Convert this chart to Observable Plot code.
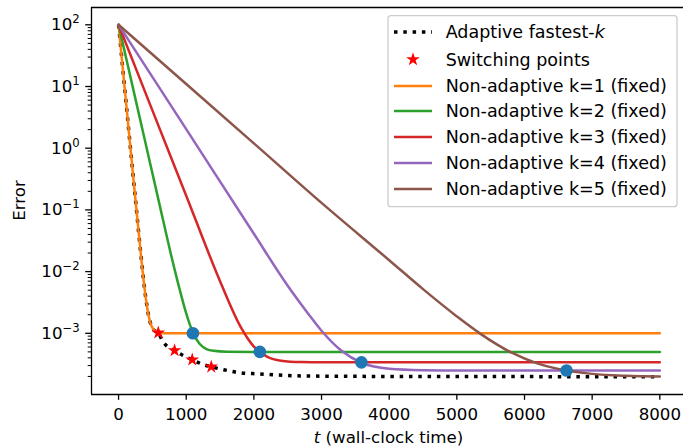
<!DOCTYPE html>
<html><head><meta charset="utf-8">
<script src="https://cdn.jsdelivr.net/npm/d3@7"></script>
<script src="https://cdn.jsdelivr.net/npm/@observablehq/plot@0.6"></script>
<style>html,body{margin:0;padding:0;background:#fff;overflow:hidden}</style>
</head><body><div id="chart"></div>
<script>
// ---- data ----
const seriesNames = ["Adaptive fastest-k", "Switching points",
  "Non-adaptive k=1 (fixed)", "Non-adaptive k=2 (fixed)", "Non-adaptive k=3 (fixed)",
  "Non-adaptive k=4 (fixed)", "Non-adaptive k=5 (fixed)"];

const adaptiveT   = [0, 125, 251, 330, 400, 440, 480, 525, 587, 655, 828, 1005, 1089, 1261, 1370, 1532, 1803, 2074, 2493, 3000, 4000, 8000];
const adaptiveErr = [100, 3.8, 0.142, 0.019, 3.9e-3, 2.04e-3, 1.37e-3, 1.12e-3, 1.02e-3, 7.4e-4, 5.26e-4, 4.1e-4, 3.72e-4, 3.09e-4, 2.86e-4, 2.6e-4, 2.29e-4, 2.2e-4, 2.07e-4, 2.02e-4, 2.0e-4, 1.98e-4];

const switchT   = [587, 828, 1089, 1370];
const switchErr = [1.02e-3, 5.26e-4, 3.72e-4, 2.86e-4];

const k1T   = [0, 125, 251, 330, 400, 440, 480, 525, 590, 700, 8000];
const k1Err = [100, 3.8, 0.142, 0.019, 3.9e-3, 2.04e-3, 1.37e-3, 1.12e-3, 1.01e-3, 1.0e-3, 1.0e-3];

const k2T   = [0, 300, 600, 800, 900, 1000, 1100, 1200, 1300, 1400, 1600, 2000, 8000];
const k2Err = [100, 3.6, 0.13, 0.0145, 5.3e-3, 2.1e-3, 1.02e-3, 6.7e-4, 5.55e-4, 5.2e-4, 5.03e-4, 5.0e-4, 5.0e-4];

const k3T   = [0, 500, 1000, 1500, 1800, 2000, 2200, 2400, 2700, 3000, 8000];
const k3Err = [100, 4.1, 0.17, 7.0e-3, 1.3e-3, 6.1e-4, 4.15e-4, 3.6e-4, 3.42e-4, 3.39e-4, 3.38e-4];

const k4T   = [0, 1000, 2000, 2500, 2800, 3000, 3300, 3600, 4000, 4500, 5000, 8000];
const k4Err = [100, 2.04, 0.041, 5.9e-3, 2.1e-3, 1.1e-3, 5.15e-4, 3.3e-4, 2.67e-4, 2.53e-4, 2.5e-4, 2.5e-4];

const k5T   = [0, 1000, 2000, 3000, 4000, 4500, 5000, 5350, 5819, 6188, 6533, 7000, 7500, 8000];
const k5Err = [100, 11, 1.2, 0.13, 0.0153, 5.2e-3, 1.88e-3, 9.8e-4, 4.8e-4, 3.25e-4, 2.6e-4, 2.2e-4, 2.05e-4, 2.0e-4];

const markerT   = [1099, 2088, 3590, 6621];
const markerErr = [1.0e-3, 5.0e-4, 3.38e-4, 2.5e-4];

const xTicks = [0, 1000, 2000, 3000, 4000, 5000, 6000, 7000, 8000];
const yExponents = [-3, -2, -1, 0, 1, 2];
const yMinorMultipliers = [2, 3, 4, 5, 6, 7, 8, 9];

// ---- styles ----
const lineColors = ["#ff7f0e", "#2ca02c", "#d62728", "#9467bd", "#8c564b"];
const FONT = "DejaVu Sans";
const FS = 16.67;
const LFS = 17.5;
const STAR_R = 4.3;

const toRows = (ts, es) => ts.map((t, i) => ({t, err: es[i]}));
const fixedSeries = [[k1T, k1Err], [k2T, k2Err], [k3T, k3Err], [k4T, k4Err], [k5T, k5Err]].map(([a, b]) => toRows(a, b));
const adaptiveRows = toRows(adaptiveT, adaptiveErr);
const switchRows = toRows(switchT, switchErr);
const markerRows = toRows(markerT, markerErr);

const yMajor = yExponents.map(e => Math.pow(10, e));
const yMinor = [];
for (let e = -4; e <= 2; e++) for (const m of yMinorMultipliers) {
  const v = m * Math.pow(10, e);
  if (v > 1.02e-4 && v < 190) yMinor.push(v);
}
const yDomain = [1.019e-4, 190.7];
const xDomain = [-400, 8350];

const chart = Plot.plot({
  width: 683, height: 448,
  marginLeft: 91, marginRight: 0, marginTop: 7, marginBottom: 54,
  style: `font-family: '${FONT}'; font-size: ${FS}px; background: white; color: black;`,
  x: {domain: xDomain},
  y: {type: "log", domain: yDomain},
  marks: [
    Plot.axisX({ticks: xTicks, tickSize: 5.8, tickPadding: 8, tickFormat: d => String(d), label: null, strokeWidth: 1.3}),
    Plot.axisY({ticks: yMajor, tickSize: 5.8, tickPadding: 6, tickFormat: d => "10^" + Math.round(Math.log10(d)), label: null, strokeWidth: 1.3}),
    Plot.axisY({ticks: yMinor, tickSize: 3.3, tickFormat: () => "", label: null, strokeWidth: 1}),
    Plot.line(adaptiveRows, {x: "t", y: "err", stroke: "black", strokeWidth: 3.5, strokeDasharray: "3.5,5.8", strokeLinecap: "butt", curve: "monotone-x"}),
    ...fixedSeries.map((rows, i) => Plot.line(rows, {x: "t", y: "err", stroke: lineColors[i], strokeWidth: 2.5, curve: "monotone-x"})),
    Plot.dot(markerRows, {x: "t", y: "err", r: 6.3, fill: "#1f77b4", stroke: "none"}),
    Plot.dot(switchRows, {x: "t", y: "err", r: STAR_R, symbol: "star", fill: "red", stroke: "none"}),
    Plot.ruleX([xDomain[0]], {stroke: "black", strokeWidth: 1.3}),
    Plot.ruleY([yDomain[0]], {stroke: "black", strokeWidth: 1.3}),
    Plot.ruleY([yDomain[1]], {stroke: "black", strokeWidth: 1.3})
  ]
});
document.getElementById("chart").appendChild(chart);

const NS = "http://www.w3.org/2000/svg";
// superscript exponents on y tick labels
chart.querySelectorAll('g[aria-label="y-axis tick label"] text').forEach(t => {
  const m = (t.textContent || "").match(/^10\^(-?\d+)$/);
  if (!m) return;
  t.textContent = "10";
  const ts = document.createElementNS(NS, "tspan");
  ts.setAttribute("dy", "-7");
  ts.setAttribute("font-size", (FS * 0.7) + "px");
  ts.textContent = m[1].replace("-", "\u2212");
  t.appendChild(ts);
});

const svg = d3.select(chart);
// axis labels
const xl = svg.append("text").attr("x", 388.5).attr("y", 443).attr("text-anchor", "middle")
  .attr("font-family", FONT).attr("font-size", FS).attr("fill", "black");
xl.append("tspan").attr("font-style", "italic").text("t");
xl.append("tspan").text(" (wall-clock time)");
svg.append("text").attr("transform", "translate(25,200.5) rotate(-90)").attr("text-anchor", "middle")
  .attr("font-family", FONT).attr("font-size", FS).attr("fill", "black").text("Error");

// legend
const lg = svg.append("g").attr("text-anchor", "start");
lg.append("rect").attr("x", 388).attr("y", 15.7).attr("width", 289).attr("height", 191).attr("rx", 3)
  .attr("fill", "white").attr("fill-opacity", 0.8).attr("stroke", "#cccccc").attr("stroke-width", 1.3);
const rowY = [32, 59.5, 86, 111, 137, 163, 189];
const hx0 = 394, hx1 = 432, tx = 445.7;
lg.append("line").attr("x1", hx0).attr("x2", hx1).attr("y1", rowY[0]).attr("y2", rowY[0])
  .attr("stroke", "black").attr("stroke-width", 3.5).attr("stroke-dasharray", "3.5,5.8");
lg.append("path").attr("d", d3.symbol(d3.symbolStar, Math.PI * STAR_R * STAR_R)()).attr("transform", `translate(413,${rowY[1]})`).attr("fill", "red");
lineColors.forEach((c, i) => {
  lg.append("line").attr("x1", hx0).attr("x2", hx1).attr("y1", rowY[i + 2]).attr("y2", rowY[i + 2])
    .attr("stroke", c).attr("stroke-width", 2.5);
});
seriesNames.forEach((name, i) => {
  const t = lg.append("text").attr("x", tx).attr("y", rowY[i]).attr("dy", "0.35em")
    .attr("text-anchor", "start")
    .attr("font-family", FONT).attr("font-size", LFS).attr("fill", "black");
  if (i === 0) {
    t.append("tspan").text(name.slice(0, -1));
    t.append("tspan").attr("font-style", "italic").text(name.slice(-1));
  } else t.text(name);
});
</script>
</body></html>
